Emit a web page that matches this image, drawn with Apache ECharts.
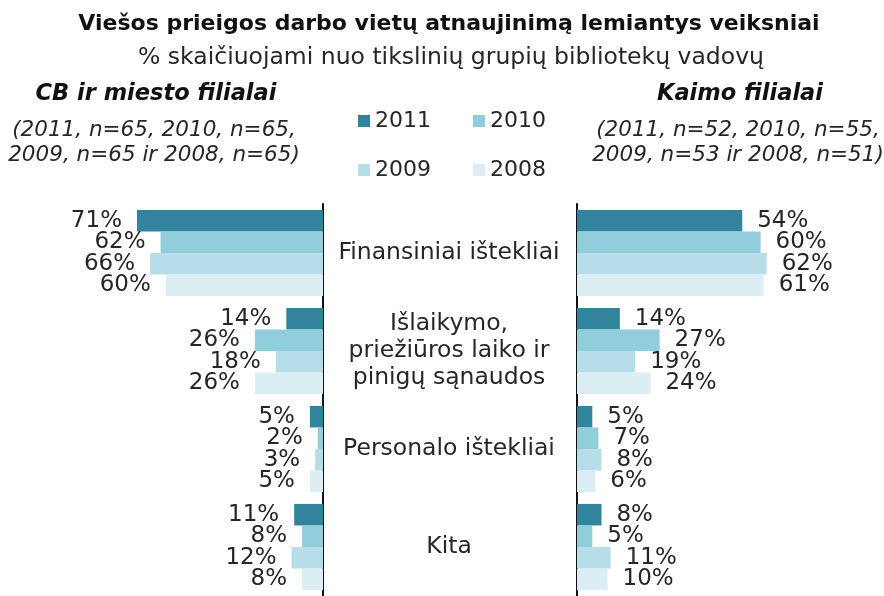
<!DOCTYPE html>
<html>
<head>
<meta charset="utf-8">
<script src="https://cdn.jsdelivr.net/npm/echarts@6/dist/echarts.min.js"></script>
<style>html,body{margin:0;padding:0;background:#fff}#c{width:884px;height:596px}</style>
</head>
<body>
<div id="c"></div>
<script>
const categories = ['Finansiniai ištekliai', 'Išlaikymo,\npriežiūros laiko ir\npinigų sąnaudos', 'Personalo ištekliai', 'Kita'];
const years = ['2011', '2010', '2009', '2008'];
// CB ir miesto filialai
const city2011 = [71, 14, 5, 11];
const city2010 = [62, 26, 2, 8];
const city2009 = [66, 18, 3, 12];
const city2008 = [60, 26, 5, 8];
// Kaimo filialai
const rural2011 = [54, 14, 5, 8];
const rural2010 = [60, 27, 7, 5];
const rural2009 = [62, 19, 8, 11];
const rural2008 = [61, 24, 6, 10];

const colors = ['#31849B', '#92CDDC', '#B7DEE8', '#DAEEF3'];
const FONT = 'DejaVu Sans';
const TXT = '#262626';

const cityData = [city2011, city2010, city2009, city2008];
const ruralData = [rural2011, rural2010, rural2009, rural2008];

const chart = echarts.init(document.getElementById('c'), null, {renderer: 'canvas'});

function mkSeries(data, idx, side) {
  return {
    name: years[idx],
    type: 'bar',
    xAxisIndex: side,
    yAxisIndex: side,
    data: data,
    barGap: '0%',
    barCategoryGap: '12.1%',
    itemStyle: {color: colors[idx]},
    label: {
      show: true,
      position: side === 0 ? 'left' : 'right',
      distance: 15,
      formatter: '{c}%',
      fontFamily: FONT,
      fontSize: 23,
      color: TXT
    },
    silent: true,
    animation: false
  };
}

const series = [];
cityData.forEach((d, i) => series.push(mkSeries(d, i, 0)));
ruralData.forEach((d, i) => series.push(mkSeries(d, i, 1)));

const legendText = {fontFamily: FONT, fontSize: 22, lineHeight: 22, color: TXT};

const option = {
  animation: false,
  grid: [
    {left: 61, top: 204, width: 262, height: 396},
    {left: 577, top: 204, width: 306, height: 396}
  ],
  xAxis: [
    {gridIndex: 0, type: 'value', min: 0, max: 100, inverse: true, show: false},
    {gridIndex: 1, type: 'value', min: 0, max: 100, show: false}
  ],
  yAxis: [
    {gridIndex: 0, type: 'category', data: categories, inverse: true, position: 'right',
     axisLine: {show: true, lineStyle: {color: '#111', width: 2}},
     axisTick: {show: false}, axisLabel: {show: false}, splitLine: {show: false}},
    {gridIndex: 1, type: 'category', data: categories, inverse: true, position: 'left',
     axisLine: {show: true, lineStyle: {color: '#111', width: 2}},
     axisTick: {show: false},
     axisLabel: {show: true, margin: 128, align: 'center', fontFamily: FONT, fontSize: 23.5, lineHeight: 27, color: TXT, padding: [0, 0, 14, 0]},
     splitLine: {show: false}}
  ],
  legend: [
    {data: ['2011', '2010'], left: 358, top: 110, padding: 0, orient: 'horizontal', icon: 'rect',
     itemWidth: 12, itemHeight: 12, itemGap: 42, selectedMode: false, textStyle: legendText},
    {data: ['2009', '2008'], left: 358, top: 159, padding: 0, orient: 'horizontal', icon: 'rect',
     itemWidth: 12, itemHeight: 12, itemGap: 42, selectedMode: false, textStyle: legendText}
  ],
  graphic: [
    {type: 'text', x: 449, y: 24, style: {text: 'Viešos prieigos darbo vietų atnaujinimą lemiantys veiksniai', font: 'bold 22px "DejaVu Sans"', fill: '#111', align: 'center', verticalAlign: 'middle'}},
    {type: 'text', x: 451, y: 58, style: {text: '% skaičiuojami nuo tikslinių grupių bibliotekų vadovų', font: '23.5px "DejaVu Sans"', fill: TXT, align: 'center', verticalAlign: 'middle'}},
    {type: 'text', x: 156, y: 94, style: {text: 'CB ir miesto filialai', font: 'italic bold 22.5px "DejaVu Sans"', fill: '#111', align: 'center', verticalAlign: 'middle'}},
    {type: 'text', x: 740, y: 94, style: {text: 'Kaimo filialai', font: 'italic bold 22.5px "DejaVu Sans"', fill: '#111', align: 'center', verticalAlign: 'middle'}},
    {type: 'text', x: 154, y: 130, style: {text: '(2011, n=65, 2010, n=65,', font: 'italic 21.5px "DejaVu Sans"', fill: TXT, align: 'center', verticalAlign: 'middle'}},
    {type: 'text', x: 154, y: 155, style: {text: '2009, n=65 ir 2008, n=65)', font: 'italic 21.5px "DejaVu Sans"', fill: TXT, align: 'center', verticalAlign: 'middle'}},
    {type: 'text', x: 738, y: 130, style: {text: '(2011, n=52, 2010, n=55,', font: 'italic 21.5px "DejaVu Sans"', fill: TXT, align: 'center', verticalAlign: 'middle'}},
    {type: 'text', x: 738, y: 155, style: {text: '2009, n=53 ir 2008, n=51)', font: 'italic 21.5px "DejaVu Sans"', fill: TXT, align: 'center', verticalAlign: 'middle'}}
  ],
  series: series
};
chart.setOption(option);
</script>
</body>
</html>
